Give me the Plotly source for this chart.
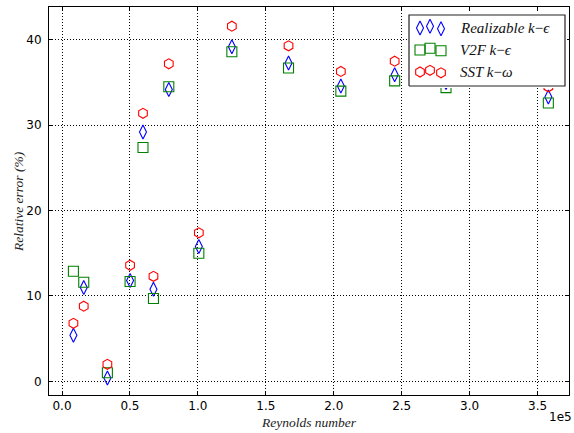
import plotly.graph_objects as go

# ---------------- data ----------------
reynolds = [8400, 16000, 33400, 50100, 59600, 67300, 78600, 100700,
            125000, 166700, 205200, 244800, 282600, 357900]
realizable_ke = [5.4, 11.0, 0.4, 11.8, 29.2, 10.8, 34.2, 15.8,
                 39.2, 37.3, 34.6, 35.9, 35.0, 33.3]
v2f_ke = [12.9, 11.6, 1.0, 11.7, 27.4, 9.7, 34.5, 15.0,
          38.6, 36.7, 34.0, 35.2, 34.4, 32.6]
sst_kw = [6.8, 8.8, 2.0, 13.6, 31.4, 12.3, 37.2, 17.4,
          41.6, 39.3, 36.3, 37.5, 37.0, 34.5]

x_tick_vals = [0, 50000, 100000, 150000, 200000, 250000, 300000, 350000]
x_tick_text = ["0.0", "0.5", "1.0", "1.5", "2.0", "2.5", "3.0", "3.5"]
y_tick_vals = [0, 10, 20, 30, 40]

series_names = ["<i>Realizable k</i>\u2212<i>\u03f5</i>",
                "<i>V2F k</i>\u2212<i>\u03f5</i>",
                "<i>SST k</i>\u2212<i>\u03c9</i>"]
series_symbols = ["diamond-tall-open", "square-open", "hexagon-open"]
series_colors = ["#0000ff", "#008000", "#ff0000"]
series_values = [realizable_ke, v2f_ke, sst_kw]

# ---------------- layout constants (pixels) ----------------
W, H = 574, 433
L, R, T, B = 49, 5, 7, 38
pw, ph = W - L - R, H - T - B

def px_x(p):
    return (p - L) / pw

def px_y(p):
    return (H - B - p) / ph

fig = go.Figure()

for name, sym, col, vals in zip(series_names, series_symbols, series_colors, series_values):
    fig.add_trace(go.Scatter(
        x=reynolds, y=vals, mode="markers", name=name, showlegend=False,
        marker=dict(symbol=sym, size=10, color=col,
                    line=dict(color=col, width=1.1)),
        cliponaxis=False,
    ))

# ---------------- custom legend (matplotlib style, 3 markers per entry) ----------------
box_l, box_r, box_t, box_b = 409, 565, 15, 86
pad = 2
bw, bh = box_r - box_l, box_b - box_t
fig.add_trace(go.Scatter(
    x=[0, bw, bw, 0, 0], y=[0, 0, bh, bh, 0], mode="lines", fill="toself",
    fillcolor="white", line=dict(color="#222222", width=1.2),
    xaxis="x2", yaxis="y2", showlegend=False, hoverinfo="skip"))
row_y = [bh - 13, bh - 35, bh - 57]
mark_x = [11, 21, 32]
mark_dy = [0, 1.7, -0.8]
for i, (name, sym, col) in enumerate(zip(series_names, series_symbols, series_colors)):
    fig.add_trace(go.Scatter(
        x=mark_x, y=[row_y[i] + d for d in mark_dy], mode="markers",
        marker=dict(symbol=sym, size=10, color=col, line=dict(color=col, width=1.1)),
        xaxis="x2", yaxis="y2", showlegend=False, hoverinfo="skip"))
    fig.add_annotation(x=49, y=row_y[i], xref="x2", yref="y2", text=name,
                       showarrow=False, xanchor="left", yanchor="middle",
                       font=dict(family="Liberation Serif", size=15, color="#111111"))

axis_common = dict(showline=True, linecolor="black", linewidth=1, mirror="ticks",
                   ticks="inside", ticklen=4, tickcolor="black", tickwidth=1,
                   showgrid=True, gridcolor="black", gridwidth=0.8, griddash="1px,2px",
                   zeroline=False,
                   tickfont=dict(family="DejaVu Sans", size=12, color="black"))

fig.update_layout(
    width=W, height=H,
    margin=dict(l=L, r=R, t=T, b=B, pad=0),
    paper_bgcolor="white", plot_bgcolor="white",
    showlegend=False,
    xaxis=dict(range=[-9570, 373100], tickvals=x_tick_vals, ticktext=x_tick_text,
               domain=[0, 1], **axis_common),
    yaxis=dict(range=[-1.6, 43.85], tickvals=y_tick_vals, domain=[0, 1],
               ticklabelstandoff=4, **axis_common),
    xaxis2=dict(domain=[px_x(box_l - pad), px_x(box_r + pad)], range=[-pad, bw + pad],
                visible=False, anchor="y2", fixedrange=True),
    yaxis2=dict(domain=[px_y(box_b + pad), px_y(box_t - pad)], range=[-pad, bh + pad],
                visible=False, anchor="x2", fixedrange=True),
)

# axis titles and offset text
fig.add_annotation(x=0.5, y=px_y(422), xref="paper", yref="paper",
                   text="<i>Reynolds number</i>", showarrow=False,
                   xanchor="center", yanchor="middle",
                   font=dict(family="Liberation Serif", size=13.5, color="#222222"))
fig.add_annotation(x=px_x(18), y=px_y(202), xref="paper", yref="paper",
                   text="<i>Relative error (%)</i>", showarrow=False, textangle=-90,
                   xanchor="center", yanchor="middle",
                   font=dict(family="Liberation Serif", size=13.5, color="#222222"))
fig.add_annotation(x=px_x(574), y=px_y(417), xref="paper", yref="paper",
                   text="1e5", showarrow=False, xanchor="right", yanchor="middle",
                   font=dict(family="DejaVu Sans", size=12, color="black"))

fig.write_html("out.html")
